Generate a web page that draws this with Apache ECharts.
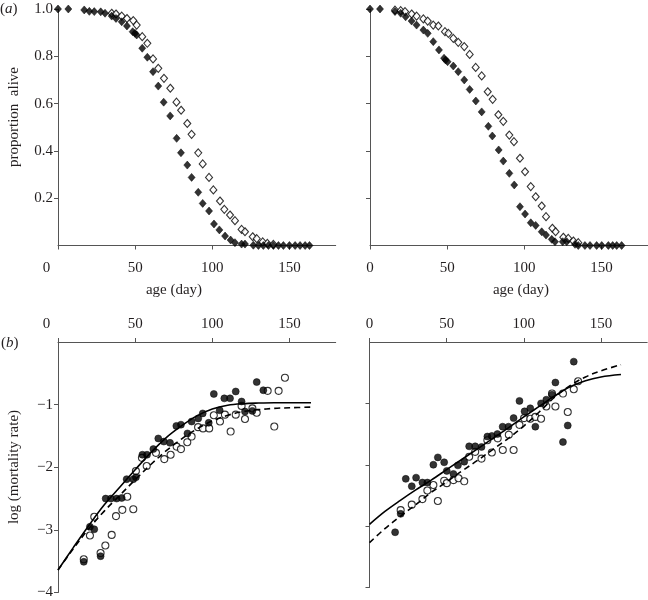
<!DOCTYPE html>
<html><head><meta charset="utf-8">
<script src="https://cdn.jsdelivr.net/npm/echarts@6/dist/echarts.min.js"></script>
<style>html,body{margin:0;padding:0;background:#fff}#c{width:648px;height:600px}</style>
</head><body><div id="c"></div>
<script>
// ---- data: age (day), value ----
const xTickValues = [0, 50, 100, 150];
const topYTicks = [0.2, 0.4, 0.6, 0.8, 1.0];
const bottomYTicks = [-1, -2, -3, -4];

const survLeftFilled = [[0,1.0],[6.7,1.0],[17,0.996],[20.3,0.99],[23.5,0.989],[27.7,0.988],[30.5,0.982],[34.8,0.97],[37.6,0.96],[41.3,0.946],[44.7,0.928],[48.4,0.904],[49.9,0.897],[51,0.89],[54.6,0.834],[57.9,0.796],[61.6,0.735],[65,0.674],[68.5,0.606],[72.7,0.548],[76.9,0.453],[79.7,0.392],[83.8,0.34],[86.6,0.288],[90.9,0.225],[93.8,0.178],[97.9,0.146],[101.1,0.091],[104.6,0.066],[108.3,0.04],[111.9,0.023],[114.7,0.012],[119,0.006],[121.2,0.006],[126.6,0.001],[129.9,0],[133.1,0],[136.4,0],[139.6,0],[142.9,0],[146.1,0],[150,0],[153.7,0],[156.9,0],[160.2,0],[163,0]];
const survLeftOpen = [[34.8,0.982],[37.6,0.979],[41.3,0.97],[44.7,0.96],[48.8,0.951],[51,0.932],[54.6,0.883],[57.9,0.855],[61.6,0.789],[65,0.749],[68.7,0.707],[72.8,0.665],[76.8,0.606],[79.8,0.572],[83.8,0.516],[86.6,0.47],[90.9,0.392],[93.8,0.345],[97.9,0.288],[100.7,0.235],[105,0.188],[107.8,0.153],[111.5,0.129],[114.7,0.105],[119,0.068],[121.2,0.058],[126.2,0.037],[128.8,0.029],[132.7,0.015],[135.7,0.009],[139.6,0.005]];
const survRightFilled = [[0,1.0],[6.5,1.0],[16.2,0.989],[19.9,0.982],[23.1,0.967],[27,0.949],[30.2,0.932],[34.6,0.911],[37.4,0.897],[41,0.862],[44.7,0.827],[48,0.792],[49,0.784],[50.3,0.777],[54,0.759],[57.2,0.735],[61.1,0.70],[64.6,0.66],[68.6,0.611],[72.4,0.565],[76.7,0.504],[79.3,0.463],[83.4,0.404],[86.4,0.357],[90.3,0.305],[93.5,0.256],[97.2,0.164],[100.5,0.133],[104.2,0.096],[107.4,0.085],[111.3,0.058],[114.1,0.044],[117.8,0.026],[119.9,0.016],[124.9,0.016],[127.5,0.016],[132.9,0.005],[135,0],[139.3,0],[142.6,0],[146.9,0],[150.2,0],[154.5,0],[157.3,0],[159.9,0],[163.1,0]];
const survRightOpen = [[16.2,0.995],[19.9,0.993],[22.7,0.989],[27,0.979],[30.2,0.97],[34.6,0.958],[37.4,0.949],[41,0.932],[44.3,0.928],[48.6,0.904],[50.8,0.897],[54,0.876],[57.2,0.859],[61.1,0.841],[64.6,0.808],[68.5,0.753],[72.4,0.717],[76.3,0.65],[79.5,0.618],[83.2,0.553],[86.4,0.525],[90.3,0.467],[93.3,0.439],[97.2,0.369],[100.5,0.312],[104.2,0.249],[107.4,0.206],[111.3,0.167],[114.1,0.122],[118.2,0.073],[120.3,0.058],[125.3,0.035],[128.5,0.03],[131.8,0.019],[135,0.012]];

const mortLeftFilled = [[16.7,-3.51],[20.7,-2.95],[23.5,-2.99],[27.6,-3.42],[30.9,-2.50],[34.3,-2.50],[38,-2.50],[41.3,-2.49],[44.5,-2.19],[48.8,-2.19],[50.5,-2.16],[54.7,-1.80],[57.7,-1.80],[61.8,-1.71],[65,-1.54],[68.6,-1.59],[72.6,-1.61],[76.7,-1.34],[79.7,-1.32],[83.9,-1.46],[86.6,-1.27],[90.9,-1.22],[93.8,-1.14],[97.7,-1.29],[101,-0.83],[104.8,-1.09],[107.8,-0.90],[111.5,-0.90],[115.2,-0.79],[119,-0.95],[121.2,-1.11],[126,-1.10],[128.8,-0.64],[133.1,-0.77]];
const mortLeftOpen = [[16.7,-3.47],[20.7,-3.09],[23.5,-2.79],[27.6,-3.37],[30.7,-3.25],[34.8,-3.08],[37.6,-2.78],[41.7,-2.68],[44.9,-2.47],[48.8,-2.67],[50.5,-2.06],[54.4,-1.85],[57.5,-1.98],[63.5,-1.77],[68.9,-1.87],[73,-1.80],[76.9,-1.67],[79.7,-1.71],[83.8,-1.60],[86.6,-1.51],[90.8,-1.36],[94,-1.38],[98,-1.38],[101,-1.17],[105,-1.27],[108.2,-1.16],[111.9,-1.43],[115.2,-1.16],[119,-1.02],[121.2,-1.23],[126,-1.06],[128.8,-1.13],[135.9,-0.78],[140.2,-1.35],[143,-0.78],[147.1,-0.57]];
const fitLeftSolid = [[0,-3.64],[10,-3.28],[20,-2.93],[30,-2.60],[40,-2.32],[50,-2.04],[60,-1.77],[70,-1.53],[80,-1.34],[90,-1.18],[100,-1.07],[110,-1.01],[120,-0.985],[130,-0.975],[140,-0.97],[150,-0.97],[164,-0.97]];
const fitLeftDashed = [[0,-3.64],[10,-3.30],[20,-2.98],[30,-2.70],[40,-2.45],[50,-2.20],[60,-1.96],[70,-1.74],[80,-1.55],[90,-1.39],[100,-1.26],[110,-1.17],[120,-1.11],[130,-1.08],[140,-1.06],[150,-1.05],[164,-1.04]];

const mortRightFilled = [[16.6,-3.10],[20.2,-2.80],[23.5,-2.23],[27.4,-2.35],[30.2,-2.21],[34.3,-2.29],[37.5,-2.29],[41.4,-2.00],[44.3,-1.88],[48.4,-1.96],[50.1,-2.10],[54.4,-2.15],[57.3,-2.01],[61.4,-1.95],[64.6,-1.70],[68.5,-1.70],[72.6,-1.71],[76.4,-1.54],[79.3,-1.53],[82.9,-1.50],[86.3,-1.38],[90.1,-1.38],[93.4,-1.24],[97.2,-0.96],[100.5,-1.13],[104.2,-1.08],[107.5,-1.38],[111.2,-1.00],[114.6,-0.94],[118.3,-0.86],[120.5,-0.66],[125.4,-1.63],[128.5,-1.36],[132.4,-0.32]];
const mortRightOpen = [[20.2,-2.74],[27.4,-2.65],[34.3,-2.56],[37.5,-2.42],[41.4,-2.33],[44.3,-2.59],[48.4,-2.26],[50.1,-2.30],[54.4,-2.25],[57.7,-2.22],[61.4,-2.27],[64.6,-1.87],[68.5,-1.79],[72.6,-1.90],[76.4,-1.60],[79.3,-1.80],[83.1,-1.57],[86.4,-1.76],[90.3,-1.51],[93.4,-1.76],[97.2,-1.35],[100.2,-1.24],[104.2,-1.25],[107.5,-1.22],[111.2,-1.25],[114.6,-1.05],[118.3,-0.84],[120.5,-1.05],[125.4,-0.84],[128.5,-1.14],[132.4,-0.77],[135.2,-0.64]];
const fitRightSolid = [[0,-2.97],[10,-2.76],[20,-2.58],[30,-2.41],[40,-2.25],[50,-2.08],[60,-1.91],[70,-1.74],[80,-1.57],[90,-1.40],[100,-1.22],[110,-1.05],[120,-0.88],[130,-0.73],[140,-0.63],[150,-0.57],[163,-0.53]];
const fitRightDashed = [[0,-3.27],[10,-3.04],[20,-2.84],[30,-2.65],[40,-2.45],[50,-2.28],[60,-2.10],[70,-1.93],[80,-1.75],[90,-1.57],[100,-1.37],[110,-1.14],[120,-0.90],[130,-0.71],[140,-0.57],[150,-0.47],[163,-0.37]];

// ---- styling ----
const FONT = 'Liberation Serif';
const TXT = '#231f20';
const AX = '#555';

function xAxisCfg(gi, pos, margin, shiftZero) {
  return {
    type: 'value', gridIndex: gi, position: pos, min: 0, max: 180,
    axisLine: {show: true, onZero: false, lineStyle: {color: AX, width: 1}},
    axisTick: {show: true, inside: false, length: 4, customValues: xTickValues, lineStyle: {color: AX}},
    splitLine: {show: false},
    axisLabel: {
      customValues: xTickValues, margin: margin, color: TXT, fontFamily: FONT, fontSize: 15,
      formatter: v => (shiftZero && v === 0) ? '{z|0}' : String(v),
      rich: {z: {padding: [0, 23, 0, 0], fontFamily: FONT, fontSize: 15, color: TXT}}
    }
  };
}
function yAxisCfg(gi, min, max, ticks, showLabels, fmt) {
  return {
    type: 'value', gridIndex: gi, min: min, max: max,
    axisLine: {show: true, onZero: false, lineStyle: {color: AX, width: 1}},
    axisTick: {show: true, inside: false, length: 4, customValues: ticks, lineStyle: {color: AX}},
    splitLine: {show: false},
    axisLabel: {show: showLabels, customValues: ticks, margin: 5, color: TXT, fontFamily: FONT, fontSize: 15, formatter: fmt}
  };
}
const fmtTop = v => v.toFixed(1);
const fmtBottom = v => '\u2212' + Math.abs(v);

function scat(gi, data, filled, symbol, size) {
  return {
    type: 'scatter', xAxisIndex: gi, yAxisIndex: gi, data: data, symbol: symbol, symbolSize: size,
    z: filled ? 4 : 3, silent: true,
    itemStyle: filled ? {color: '#000', borderColor: '#000', borderWidth: 0.6}
                      : {color: '#fff', borderColor: '#000', borderWidth: 1.1}
  };
}
function fit(gi, data, dashed) {
  return {
    type: 'line', xAxisIndex: gi, yAxisIndex: gi, data: data, smooth: 0.35, showSymbol: false, z: 5, silent: true,
    lineStyle: {color: '#000', width: 1.6, type: dashed ? [6, 4] : 'solid'}
  };
}

const option = {
  animation: false,
  backgroundColor: '#fff',
  grid: [
    {left: 58, top: 9, width: 277.7, height: 236.5},
    {left: 370, top: 9, width: 277.7, height: 236.5},
    {left: 58, top: 342, width: 277.7, height: 250.7},
    {left: 369.5, top: 342, width: 277.7, height: 245.5}
  ],
  xAxis: [
    xAxisCfg(0, 'bottom', 15, true),
    xAxisCfg(1, 'bottom', 15, false),
    xAxisCfg(2, 'top', 10, true),
    xAxisCfg(3, 'top', 10, false)
  ],
  yAxis: [
    yAxisCfg(0, 0, 1, topYTicks, true, fmtTop),
    yAxisCfg(1, 0, 1, topYTicks, false, fmtTop),
    yAxisCfg(2, -4, 0, bottomYTicks, true, fmtBottom),
    yAxisCfg(3, -4, 0, bottomYTicks, false, fmtBottom)
  ],
  series: [
    scat(0, survLeftOpen, false, 'diamond', [7, 8]),
    scat(0, survLeftFilled, true, 'diamond', [7, 8]),
    scat(1, survRightOpen, false, 'diamond', [7, 8]),
    scat(1, survRightFilled, true, 'diamond', [7, 8]),
    scat(2, mortLeftOpen, false, 'circle', 7),
    scat(2, mortLeftFilled, true, 'circle', 7),
    fit(2, fitLeftSolid, false),
    fit(2, fitLeftDashed, true),
    scat(3, mortRightOpen, false, 'circle', 7),
    scat(3, mortRightFilled, true, 'circle', 7),
    fit(3, fitRightSolid, false),
    fit(3, fitRightDashed, true)
  ],
  graphic: [
    {type: 'text', x: 0, y: 2, style: {text: '({i|a})', fontFamily: FONT, fontSize: 15, fill: TXT,
      rich: {i: {fontStyle: 'italic', fontFamily: FONT, fontSize: 15, fill: TXT}}}},
    {type: 'text', x: 1, y: 336, style: {text: '({i|b})', fontFamily: FONT, fontSize: 15, fill: TXT,
      rich: {i: {fontStyle: 'italic', fontFamily: FONT, fontSize: 15, fill: TXT}}}},
    {type: 'text', x: 14, y: 117, rotation: Math.PI / 2,
      style: {text: 'proportion  alive', align: 'center', verticalAlign: 'middle', fontFamily: FONT, fontSize: 15, fill: TXT}},
    {type: 'text', x: 14, y: 467, rotation: Math.PI / 2,
      style: {text: 'log (mortality rate)', align: 'center', verticalAlign: 'middle', fontFamily: FONT, fontSize: 15, fill: TXT}},
    {type: 'text', x: 174, y: 290,
      style: {text: 'age (day)', align: 'center', verticalAlign: 'middle', fontFamily: FONT, fontSize: 15, fill: TXT}},
    {type: 'text', x: 521, y: 290,
      style: {text: 'age (day)', align: 'center', verticalAlign: 'middle', fontFamily: FONT, fontSize: 15, fill: TXT}}
  ]
};
const chart = echarts.init(document.getElementById('c'), null, {renderer: 'canvas'});
chart.setOption(option);
</script>
</body></html>
